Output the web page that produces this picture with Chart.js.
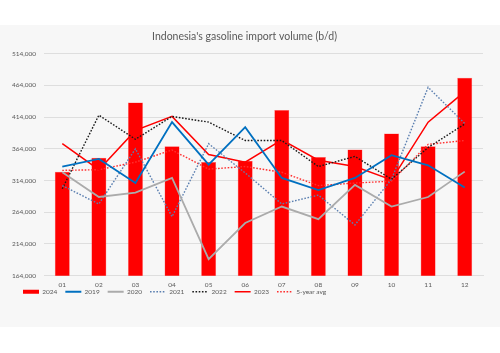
<!DOCTYPE html>
<html>
<head>
<meta charset="utf-8">
<script src="https://cdn.jsdelivr.net/npm/chart.js@4/dist/chart.umd.min.js"></script>
<style>
  html, body { margin: 0; padding: 0; background: #fff; }
  #panel { position: absolute; left: 0; top: 25px; width: 500px; height: 302px; background: #f7f7f7; }
  canvas { display: block; }
</style>
</head>
<body>
<div id="panel"><canvas id="chart" width="500" height="302"></canvas></div>
<script>
// Data
const months = ["01", "02", "03", "04", "05", "06", "07", "08", "09", "10", "11", "12"];
const vol2024 = [328000, 350000, 437000, 368000, 343000, 345000, 425000, 351000, 363000, 388000, 368000, 476000];
const vol2019 = [336000, 348000, 310000, 406000, 339000, 398000, 318000, 299000, 318000, 354000, 338000, 303000];
const vol2020 = [327000, 288000, 295000, 318000, 190000, 247000, 273000, 253000, 307000, 273000, 288000, 328000];
const vol2021 = [306000, 277000, 364000, 257000, 372000, 326000, 277000, 291000, 244000, 316000, 461000, 404000];
const vol2022 = [301000, 417000, 379000, 415000, 406000, 377000, 377000, 336000, 352000, 316000, 366000, 403000];
const vol2023 = [372000, 331000, 393000, 415000, 355000, 343000, 378000, 346000, 336000, 315000, 406000, 454000];
const avg5y = [330000, 331000, 343000, 362000, 332000, 336000, 327000, 306000, 310000, 313000, 371000, 377000];
const yTicks = [164000, 214000, 264000, 314000, 364000, 414000, 464000, 514000];

const FONT = "Lato, 'Liberation Sans', sans-serif";
const TEXT = "#595959";
const GRID = "#dedede";

function line(label, data, color, width, dash) {
  return {
    type: "line",
    label: label,
    data: data,
    borderColor: color,
    backgroundColor: color,
    borderWidth: width,
    borderDash: dash || [],
    pointRadius: 0,
    tension: 0,
    order: 0,
  };
}

const datasets = [
  {
    type: "bar",
    label: "2024",
    data: vol2024,
    backgroundColor: "#ff0000",
    borderColor: "#ff6b6b",
    borderWidth: 0.5,
    barPercentage: 0.82,
    categoryPercentage: 0.5,
    order: 1,
  },
  line("2019", vol2019, "#0070c0", 1.8),
  line("2020", vol2020, "#ababab", 1.8),
  line("2021", vol2021, "#5b7fb0", 1.4, [1.6, 1.6]),
  line("2022", vol2022, "#1a1a1a", 1.4, [1.6, 1.6]),
  line("2023", vol2023, "#ff0000", 1.5),
  line("5-year avg", avg5y, "#ff3030", 1.4, [1.6, 1.6]),
];

// nudge the legend: a bit right and closer to the month labels
const legendShift = {
  id: "legendShift",
  afterLayout(chart) {
    const lg = chart.legend;
    lg.left += 9;
    lg.right += 9;
    lg.top -= 13;
    lg.bottom -= 13;
  },
};

new Chart(document.getElementById("chart"), {
  data: { labels: months, datasets: datasets },
  plugins: [legendShift],
  options: {
    responsive: false,
    animation: false,
    layout: { padding: { left: 6, right: 17, bottom: 9 } },
    plugins: {
      title: {
        display: true,
        text: "Indonesia's gasoline import volume (b/d)",
        color: TEXT,
        font: { family: FONT, size: 10.5, weight: "normal" },
        padding: { top: 5, bottom: 11 },
      },
      legend: {
        position: "bottom",
        align: "start",
        labels: {
          usePointStyle: true,
          pointStyleWidth: 16,
          boxHeight: 4,
          padding: 8,
          color: TEXT,
          font: { family: FONT, size: 6.5 },
          generateLabels: (chart) =>
            chart.data.datasets.map((ds, i) => ({
              text: ds.label,
              fillStyle: ds.backgroundColor,
              strokeStyle: ds.type === "bar" ? ds.backgroundColor : ds.borderColor,
              lineWidth: ds.type === "bar" ? 0 : ds.borderWidth,
              lineDash: ds.borderDash || [],
              pointStyle: ds.type === "bar" ? "rect" : "line",
              fontColor: TEXT,
              hidden: false,
              datasetIndex: i,
            })),
        },
      },
      tooltip: { enabled: false },
    },
    scales: {
      x: {
        grid: { display: false, drawTicks: false },
        border: { color: GRID },
        ticks: { color: TEXT, font: { family: FONT, size: 6.5 }, padding: 5 },
      },
      y: {
        min: 164000,
        max: 514000,
        afterFit: (scale) => { scale.width = 38; },
        afterBuildTicks: (scale) => { scale.ticks = yTicks.map((v) => ({ value: v })); },
        grid: { color: GRID, drawTicks: false },
        border: { display: false },
        ticks: {
          color: TEXT,
          font: { family: FONT, size: 6.5 },
          padding: 8,
          callback: (v) => v.toLocaleString("en-US"),
        },
      },
    },
  },
});
</script>
</body>
</html>
